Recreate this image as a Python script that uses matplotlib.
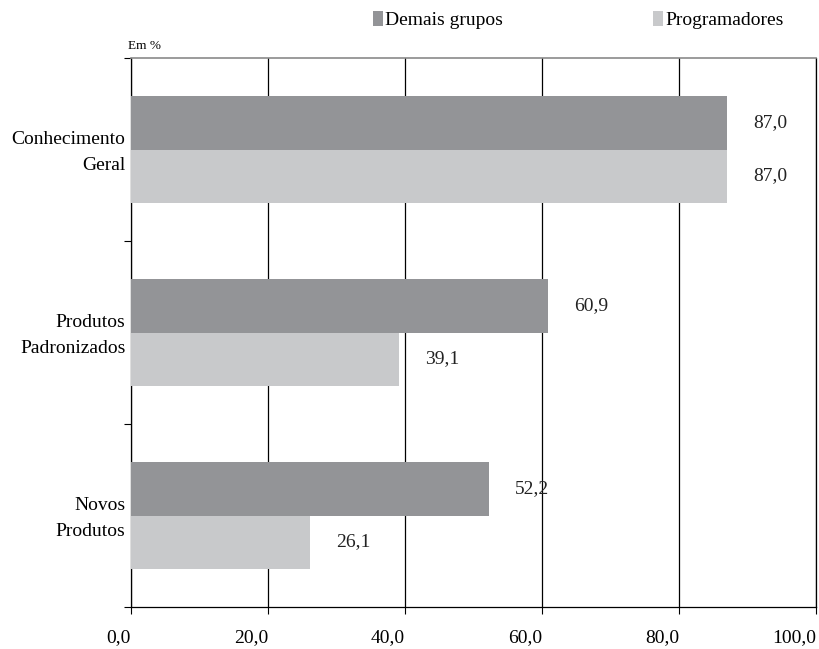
import matplotlib
matplotlib.use("Agg")
import matplotlib.pyplot as plt
import matplotlib.transforms as mtransforms
import numpy as np

categories = ["Conhecimento\nGeral", "Produtos\nPadronizados", "Novos\nProdutos"]
demais_grupos = [87.0, 60.9, 52.2]
programadores = [87.0, 39.1, 26.1]
series_names = ["Demais grupos", "Programadores"]
xticks = [0, 20, 40, 60, 80, 100]

dark = "#939497"
light = "#c8c9cb"
fs = 14

plt.rcParams["font.family"] = ["Liberation Serif", "DejaVu Serif"]

fig = plt.figure(figsize=(8.19, 6.49), dpi=100)
ax = fig.add_axes([131 / 819, 1 - 607 / 649, 685 / 819, 549 / 649])

n = len(categories)
pos = np.arange(n)
h = 0.29

b1 = ax.barh(pos - h / 2, demais_grupos, height=h, color=dark, zorder=3)
b2 = ax.barh(pos + h / 2, programadores, height=h, color=light, zorder=3)

for bars, vals in ((b1, demais_grupos), (b2, programadores)):
    for bar, v in zip(bars, vals):
        ax.annotate(f"{v:.1f}".replace(".", ","),
                    (v, bar.get_y() + bar.get_height() / 2),
                    xytext=(19, 0), textcoords="offset points",
                    va="center", ha="left", fontsize=fs, color="#222222")

ax.set_xlim(0, 100)
ax.set_ylim(n - 0.5, -0.5)

# x labels sit to the left of their tick, right edge on the tick
ax.set_xticks(xticks)
ax.set_xticklabels([f"{t:.1f}".replace(".", ",") for t in xticks], fontsize=fs, ha="right")
ax.tick_params(axis="x", direction="out", length=5, width=0.8, pad=11, color="black")

ax.set_yticks(pos)
ax.set_yticklabels(categories, fontsize=fs, linespacing=1.75, ha="right")
ax.tick_params(axis="y", which="major", length=0, pad=4)
ax.set_yticks(np.arange(n + 1) - 0.5, minor=True)
ax.tick_params(axis="y", which="minor", direction="out", length=5, width=0.8, color="black")

# nudge category labels up a little
shift = mtransforms.ScaledTranslation(0, 4 / 100, fig.dpi_scale_trans)
for lab in ax.get_yticklabels():
    lab.set_transform(lab.get_transform() + shift)

ax.xaxis.grid(True, color="black", linewidth=0.9, zorder=1)
ax.set_axisbelow(True)

for s in ("left", "right", "bottom"):
    ax.spines[s].set_color("black")
    ax.spines[s].set_linewidth(0.9)
ax.spines["top"].set_color("#8a8a8a")
ax.spines["top"].set_linewidth(1.2)

fig.text(128 / 819, 1 - 46 / 649, "Em %", fontsize=9.5, ha="left", va="center")

# one legend entry per series, placed separately along the top
for bar, name, x0 in ((b1, series_names[0], 362), (b2, series_names[1], 642)):
    fig.legend(handles=[bar], labels=[name], loc="upper left",
               bbox_to_anchor=(x0 / 819, 1.0), frameon=False,
               fontsize=fs, handlelength=0.55, handleheight=0.85,
               handletextpad=0.1, borderaxespad=0.55, borderpad=0.0)

fig.savefig("out.png", dpi=100)
